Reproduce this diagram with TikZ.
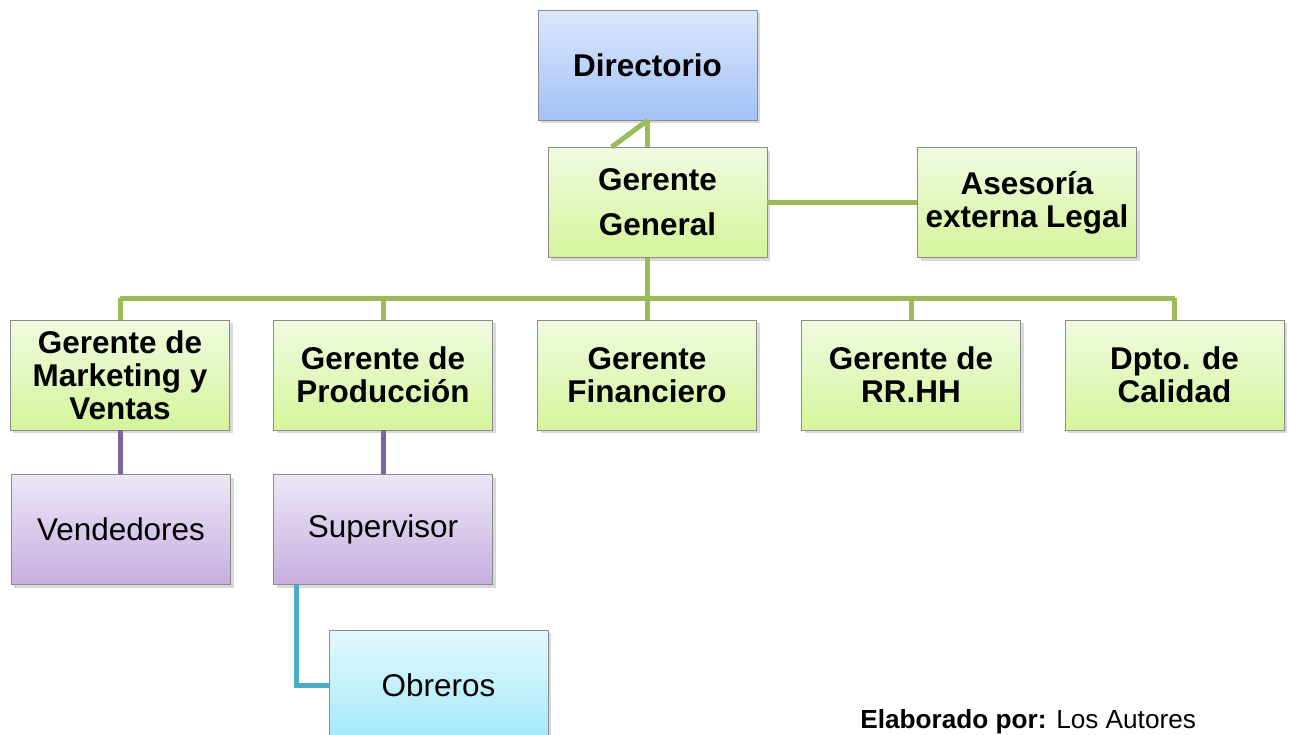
\documentclass[tikz,border=0pt]{standalone}
\usepackage{fontspec}
\setmainfont{Liberation Sans}
\usetikzlibrary{shadows}

\definecolor{lineGreen}{HTML}{9BBB59}
\definecolor{linePurple}{HTML}{8064A2}
\definecolor{lineCyan}{HTML}{4BACC6}
\definecolor{boxGray}{HTML}{8C8C8C}
\definecolor{greenTop}{HTML}{F0FAE0}
\definecolor{greenBot}{HTML}{D4F59B}
\definecolor{blueTop}{HTML}{DAE7FC}
\definecolor{blueBot}{HTML}{A3C2F7}
\definecolor{purpleTop}{HTML}{EDE6F6}
\definecolor{purpleBot}{HTML}{C6AFE0}
\definecolor{cyanTop}{HTML}{E3F8FD}
\definecolor{cyanBot}{HTML}{A4E9FA}

\begin{document}
\begin{tikzpicture}[
    box/.style={draw=boxGray, minimum width=4.38cm, minimum height=2.2cm,
        align=center, inner sep=2pt,
        drop shadow={opacity=0.3, shadow xshift=0.06cm, shadow yshift=-0.06cm}},
    greenbox/.style={box, top color=greenTop, bottom color=greenBot,
        font=\fontsize{17.9}{18.7}\selectfont\bfseries},
    bluebox/.style={box, top color=blueTop, bottom color=blueBot,
        font=\fontsize{17.9}{18.7}\selectfont\bfseries},
    purplebox/.style={box, top color=purpleTop, bottom color=purpleBot,
        font=\fontsize{17.9}{18.7}\selectfont},
    cyanbox/.style={box, top color=cyanTop, bottom color=cyanBot,
        font=\fontsize{17.9}{18.7}\selectfont},
    link/.style={line width=0.1cm, color=#1},
]
    %
    % Independent parameters
    \def\rowY{-7.5}                                   % department row
    \def\busY{-5.96}                                  % bus line height
    \def\subY{-10.59}                                 % second level row
    %
    \useasboundingbox (0,0) rectangle (25.78,-14.68);
    %
    % top boxes
    \node[bluebox] (dir) at (12.95,-1.3) {Directorio};
    \node[greenbox, font=\fontsize{17.9}{25.5}\selectfont\bfseries]
        (gg) at (13.15,-4.05) {Gerente\\General};
    \node[greenbox] (ases) at (20.54,-4.05) {Asesoría\\externa Legal};
    %
    % department row
    \foreach
    [
        var=\name,
        var=\xc,
        var=\txt,
    ]
    in {mkt/2.4/{Gerente de\\Marketing y\\Ventas},
        prod/7.66/{Gerente de\\Producción},
        fin/12.94/{Gerente\\Financiero},
        rrhh/18.22/{Gerente de\\RR.HH},
        cal/23.49/{Dpto. de\\Calidad}}%
    {
     \node[greenbox] (\name) at (\xc,\rowY) {\txt};
    }
    %
    % lower levels
    \node[purplebox] (vend) at (2.42,\subY) {Vendedores};
    \node[purplebox] (sup) at (7.66,\subY) {Supervisor};
    \node[cyanbox] (obr) at (8.77,-13.7) {Obreros};
    %
    % connectors
    \draw[link=lineGreen] (dir.south) -- (dir.south |- gg.north);
    \draw[link=lineGreen] (dir.south) -- ([xshift=1.28cm]gg.north west);
    \draw[link=lineGreen] (gg.east) -- (ases.west);
    \draw[link=lineGreen] (dir.south |- gg.south) -- (dir.south |- 0,\busY);
    \draw[link=lineGreen] (mkt.north |- 0,\busY) -- (cal.north |- 0,\busY);
    \foreach \name in {mkt,prod,fin,rrhh,cal}
    {
     \draw[link=lineGreen] (\name.north) -- (\name.north |- 0,\busY);
    }
    \draw[link=linePurple] (mkt.south) -- (mkt.south |- vend.north);
    \draw[link=linePurple] (prod.south) -- (sup.north);
    \draw[link=lineCyan] ([xshift=0.46cm]sup.south west) |- (obr.west);
    %
    % source note
    \node[anchor=base west, inner sep=0pt, font=\fontsize{14.9}{16}\selectfont]
        (note) at (17.2,-14.56) {\textbf{Elaborado por:} Los Autores};
\end{tikzpicture}
\end{document}
